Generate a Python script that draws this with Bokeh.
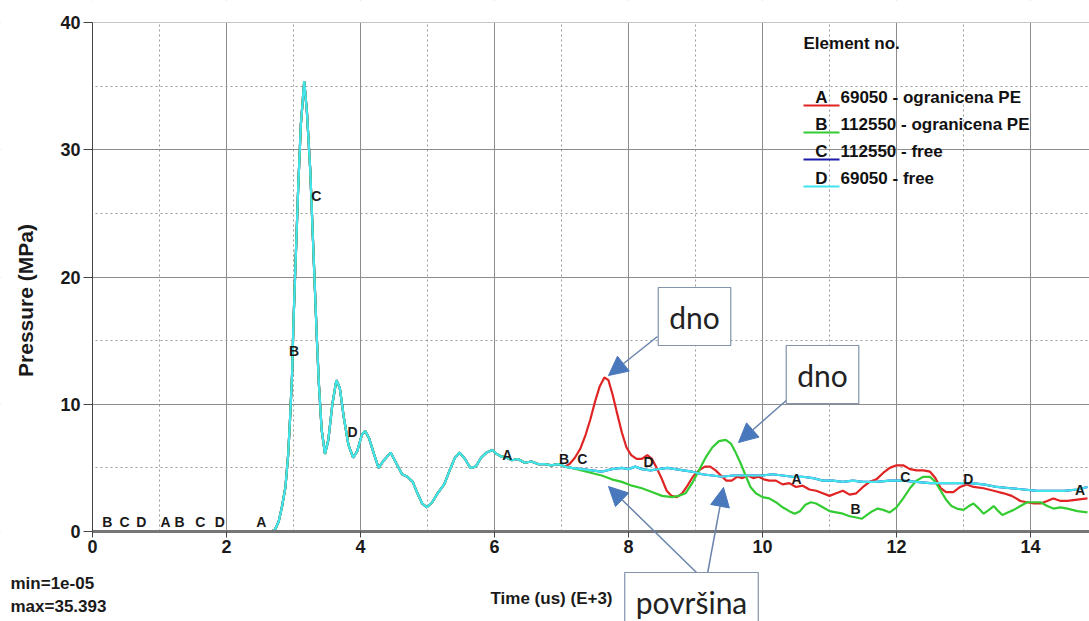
import numpy as np
from bokeh.plotting import figure
from bokeh.models import (Range1d, SingleIntervalTicker, Label, Arrow, NormalHead,
                          ColumnDataSource, BoxAnnotation)
from bokeh.core.properties import value
from bokeh.embed import file_html
from bokeh.resources import INLINE

# ---------------- data ----------------
common_x = [0, 2.65, 2.72, 2.78, 2.83, 2.88, 2.92, 2.95, 2.98, 3.0, 3.03, 3.07, 3.11, 3.16, 3.20, 3.25,
            3.29, 3.32, 3.35, 3.38, 3.42, 3.47, 3.52, 3.58, 3.64, 3.69, 3.75, 3.82, 3.89, 3.95, 4.02,
            4.07, 4.13, 4.2, 4.27, 4.35, 4.45, 4.53, 4.62, 4.70, 4.78, 4.85, 4.92, 4.99, 5.07, 5.15,
            5.25, 5.33, 5.41, 5.48, 5.56, 5.64, 5.72, 5.8, 5.88, 5.97, 6.03, 6.1, 6.18, 6.26, 6.35,
            6.45, 6.55, 6.65, 6.75, 6.85, 6.95, 7.05]
common_y = [0, 0, 0.1, 0.8, 2.0, 3.5, 6.0, 9.0, 12.5, 16.5, 21.0, 27.0, 32.0, 35.39, 33.0, 28.4,
            23.0, 19.0, 15.0, 11.5, 8.0, 6.1, 7.2, 10.0, 11.9, 11.3, 9.0, 6.8, 5.8, 6.3, 7.6,
            7.9, 7.3, 6.1, 5.0, 5.6, 6.2, 5.4, 4.5, 4.3, 3.9, 3.0, 2.2, 1.9, 2.3, 3.0,
            3.7, 4.8, 5.8, 6.2, 5.7, 5.0, 5.1, 5.8, 6.2, 6.4, 6.1, 5.9, 5.8, 5.6, 5.7,
            5.4, 5.5, 5.3, 5.3, 5.2, 5.3, 5.1]

a_tail_x = [7.12, 7.2, 7.28, 7.36, 7.43, 7.5, 7.57, 7.64, 7.7, 7.76, 7.82, 7.9, 7.97, 8.04, 8.12, 8.2,
            8.28, 8.35, 8.42, 8.5, 8.57, 8.64, 8.72, 8.8, 8.88, 8.96, 9.05, 9.14, 9.22, 9.3, 9.38,
            9.46, 9.54, 9.62, 9.7, 9.78, 9.86, 9.94, 10.02, 10.1, 10.2, 10.3, 10.4, 10.5, 10.6, 10.7,
            10.8, 10.9, 11.0, 11.1, 11.2, 11.3, 11.4, 11.5, 11.6, 11.7, 11.8, 11.9, 12.0, 12.1, 12.2,
            12.3, 12.4, 12.5, 12.58, 12.66, 12.74, 12.85, 12.95, 13.05, 13.15, 13.3, 13.45, 13.6,
            13.72, 13.85, 13.95, 14.05, 14.15, 14.25, 14.34, 14.45, 14.55, 14.7, 14.85]
a_tail_y = [5.3, 5.8, 6.5, 7.6, 8.8, 10.2, 11.4, 12.1, 11.9, 10.8, 9.5, 7.8, 6.6, 6.0, 5.7, 5.7,
            6.0, 5.7, 5.0, 4.1, 3.2, 2.8, 2.7, 3.0, 3.6, 4.3, 4.8, 5.1, 5.1, 4.8, 4.4,
            4.0, 4.0, 4.3, 4.2, 4.4, 4.2, 4.3, 4.1, 4.0, 4.0, 3.7, 3.8, 3.5, 3.6, 3.3,
            3.2, 3.0, 2.8, 3.0, 3.2, 2.9, 3.0, 3.5, 3.9, 4.1, 4.6, 5.0, 5.2, 5.2, 4.9,
            4.8, 4.8, 4.7, 4.2, 3.4, 3.1, 3.1, 3.5, 3.7, 3.5, 3.4, 3.2, 3.0,
            2.8, 2.4, 2.3, 2.2, 2.2, 2.4, 2.6, 2.4, 2.4, 2.5, 2.6]

b_tail_x = [7.15, 7.3, 7.45, 7.6, 7.75, 7.9, 8.05, 8.2, 8.35, 8.5, 8.65, 8.75, 8.85, 8.95, 9.05, 9.15,
            9.25, 9.35, 9.45, 9.53, 9.6, 9.67, 9.74, 9.82, 9.9, 10.0, 10.1, 10.2, 10.3, 10.4, 10.48,
            10.56, 10.64, 10.72, 10.8, 10.9, 11.0, 11.1, 11.2, 11.3, 11.4, 11.48, 11.56, 11.64, 11.72,
            11.8, 11.9, 12.0, 12.1, 12.2, 12.3, 12.4, 12.5, 12.58, 12.66, 12.74, 12.82, 12.9, 13.0,
            13.08, 13.15, 13.23, 13.3, 13.38, 13.45, 13.52, 13.58, 13.66, 13.75, 13.85, 13.95, 14.05,
            14.15, 14.25, 14.34, 14.45, 14.55, 14.7, 14.85]
b_tail_y = [5.0, 4.8, 4.6, 4.4, 4.1, 3.9, 3.6, 3.4, 3.1, 2.8, 2.7, 2.8, 3.0, 3.8, 4.8, 5.8,
            6.6, 7.1, 7.2, 6.9, 6.2, 5.4, 4.5, 3.5, 3.0, 2.7, 2.6, 2.3, 1.9, 1.6, 1.4,
            1.6, 2.1, 2.3, 2.2, 1.9, 1.6, 1.5, 1.4, 1.2, 1.1, 1.0, 1.3, 1.6, 1.8,
            1.7, 1.5, 1.9, 2.6, 3.4, 4.0, 4.3, 4.3, 3.9, 3.2, 2.5, 2.0, 1.8, 1.7,
            2.0, 2.2, 1.8, 1.4, 1.7, 2.0, 1.6, 1.3, 1.5, 1.7, 2.0, 2.3, 2.3,
            2.3, 2.0, 1.8, 1.9, 1.8, 1.6, 1.5]

d_tail_x = [7.15, 7.3, 7.45, 7.6, 7.75, 7.9, 8.0, 8.1, 8.2, 8.33, 8.45, 8.58, 8.7, 8.82, 8.95, 9.1,
            9.25, 9.4, 9.55, 9.7, 9.85, 10.0, 10.15, 10.3, 10.45, 10.6, 10.75, 10.9, 11.05, 11.2,
            11.35, 11.5, 11.7, 11.9, 12.1, 12.3, 12.5, 12.7, 12.9, 13.1, 13.3, 13.5, 13.7, 13.9,
            14.1, 14.3, 14.5, 14.7, 14.85]
d_tail_y = [5.0, 4.9, 4.8, 4.7, 4.9, 5.0, 4.9, 5.1, 4.9, 4.8, 4.9, 5.0, 4.9, 4.8, 4.7, 4.5,
            4.4, 4.3, 4.4, 4.4, 4.4, 4.4, 4.5, 4.4, 4.3, 4.3, 4.2, 4.0, 4.0, 3.9,
            4.0, 3.9, 3.9, 4.0, 4.0, 3.9, 3.8, 3.8, 3.8, 3.8, 3.7, 3.5, 3.4, 3.3,
            3.2, 3.2, 3.2, 3.3, 3.5]

marker_text = ["B", "C", "D", "A", "B", "C", "D", "A", "B", "C", "D", "A", "B", "C", "D",
               "A", "B", "C", "D", "A"]
marker_x = [0.22, 0.48, 0.73, 1.09, 1.30, 1.61, 1.90, 2.52, 3.01, 3.34, 3.88, 6.19, 7.04, 7.31,
            8.30, 10.51, 11.39, 12.13, 13.07, 14.74]
marker_y = [0.71, 0.71, 0.71, 0.71, 0.71, 0.71, 0.71, 0.71, 14.2, 26.4, 7.8, 6.05, 5.66, 5.66,
            5.5, 4.09, 1.73, 4.32, 4.09, 3.3]

series_letters = ["A", "B", "C", "D"]
series_names = ["69050 - ogranicena PE", "112550 - ogranicena PE", "112550 - free", "69050 - free"]
series_colors = ["#e02424", "#33cc33", "#1c1ca8", "#42e4ee"]

# ---------------- geometry (frame covers the whole canvas) ----------------
FONT = "Liberation Sans"
W, H = 1089, 621
X0, Y0 = 92, 531          # pixel of data origin
XS = 67.0                 # px per x unit
YS = (531 - 22) / 40.0    # px per y unit

x_lo, x_hi = -X0 / XS, (W - X0) / XS
y_lo, y_hi = -(H - Y0) / YS, Y0 / YS

p = figure(width=W, height=H, output_backend="svg", toolbar_location=None,
           x_range=Range1d(x_lo, x_hi), y_range=Range1d(y_lo, y_hi),
           min_border=0, min_border_left=0, min_border_right=0,
           min_border_top=0, min_border_bottom=0)
p.outline_line_color = None
p.background_fill_color = "white"


def dx(px):
    return (px - X0) / XS


def dy(py):
    return (Y0 - py) / YS


p.xaxis.ticker = SingleIntervalTicker(interval=2, num_minor_ticks=2)
p.yaxis.ticker = SingleIntervalTicker(interval=10, num_minor_ticks=2)
p.xaxis.fixed_location = 0
p.yaxis.fixed_location = 0
p.xaxis.bounds = (0, x_hi)
p.yaxis.bounds = (0, 40)

for g in (p.xgrid, p.ygrid):
    g.grid_line_color = "#8c8c8c"
    g.grid_line_width = 1
    g.minor_grid_line_color = "#9a9a9a"
    g.minor_grid_line_dash = "2 3"
    g.minor_grid_line_width = 1

# white covers so grid lines stay inside the data area
for kw in (dict(left=x_lo - 1, right=0, bottom=y_lo - 1, top=y_hi + 1),
           dict(left=x_lo - 1, right=x_hi + 1, bottom=y_lo - 1, top=0),
           dict(left=x_lo - 1, right=x_hi + 1, bottom=40, top=y_hi + 1)):
    p.add_layout(BoxAnnotation(fill_color="white", fill_alpha=1.0, line_color=None,
                               level="underlay", **kw))

for ax in (p.xaxis, p.yaxis):
    ax.minor_tick_line_color = None
    ax.major_label_text_font = FONT
    ax.major_label_text_font_style = "bold"
    ax.major_label_text_font_size = "18px"
    ax.major_label_text_color = "#1a1a1a"
    ax.major_tick_in = 0
    ax.major_tick_line_color = "#444444"

p.yaxis.axis_line_color = "#444444"
p.yaxis.major_tick_out = 9
p.yaxis.major_label_standoff = 3
p.xaxis.axis_line_color = "#767676"
p.xaxis.axis_line_width = 3
p.xaxis.major_tick_out = 6
p.xaxis.major_label_standoff = 2

# ---------------- curves ----------------
tails = {"A": (a_tail_x, a_tail_y), "B": (b_tail_x, b_tail_y),
         "C": (d_tail_x, d_tail_y), "D": (d_tail_x, d_tail_y)}
order = ["C", "A", "B", "D"]
for letter in order:
    i = series_letters.index(letter)
    tx, ty = tails[letter]
    p.line(common_x + tx, common_y + ty, line_color=series_colors[i], line_width=2.2)

msrc = ColumnDataSource(dict(x=marker_x, y=marker_y, t=marker_text))
p.text(x="x", y="y", text="t", source=msrc, text_font=value(FONT), text_font_size="14px",
       text_font_style="bold", text_align="center", text_baseline="middle", text_color="#1a1a1a")

# ---------------- legend (custom) ----------------
p.add_layout(Label(x=dx(803), y=dy(43), text="Element no.", text_font=FONT, text_font_style="bold",
                   text_font_size="17px", text_baseline="middle", text_color="#111111"))
row_y = [97, 124, 151, 178]
for i, letter in enumerate(series_letters):
    ly = row_y[i]
    p.add_layout(Arrow(end=None, x_start=dx(803), y_start=dy(ly + 8), x_end=dx(839), y_end=dy(ly + 8),
                       line_color=series_colors[i], line_width=2.2))
    p.add_layout(Label(x=dx(821), y=dy(ly), text=letter, text_font=FONT, text_font_size="17px",
                       text_font_style="bold", text_align="center", text_baseline="middle",
                       text_color="#111111"))
    p.add_layout(Label(x=dx(840), y=dy(ly), text=series_names[i], text_font=FONT,
                       text_font_size="17px", text_font_style="bold", text_baseline="middle",
                       text_color="#111111"))

# ---------------- axis titles & notes ----------------
p.add_layout(Label(x=dx(25), y=dy(300), text="Pressure (MPa)", angle=np.pi / 2, text_font=FONT,
                   text_font_size="21px", text_font_style="bold", text_align="center",
                   text_baseline="middle", text_color="#1a1a1a"))
p.add_layout(Label(x=dx(551), y=dy(598), text="Time (us) (E+3)", text_font=FONT,
                   text_font_size="17px", text_font_style="bold", text_align="center",
                   text_baseline="middle", text_color="#1a1a1a"))
p.add_layout(Label(x=dx(10), y=dy(583), text="min=1e-05", text_font=FONT,
                   text_font_size="17px", text_font_style="bold", text_baseline="middle",
                   text_color="#1a1a1a"))
p.add_layout(Label(x=dx(10), y=dy(606), text="max=35.393", text_font=FONT,
                   text_font_size="17px", text_font_style="bold", text_baseline="middle",
                   text_color="#1a1a1a"))

# ---------------- callouts ----------------
ARROW_C = "#6a84ad"
HEAD_C = "#4a78bc"
arrows = [((657, 336), (608, 375)), ((788, 398), (738, 442)),
          ((697, 573), (608, 486)), ((707, 573), (723, 487))]
for (sx, sy), (ex, ey) in arrows:
    p.add_layout(Arrow(x_start=dx(sx), y_start=dy(sy), x_end=dx(ex), y_end=dy(ey),
                       line_color=ARROW_C, line_width=1.5,
                       end=NormalHead(size=19, fill_color=HEAD_C, line_color=HEAD_C)))

callouts = [("dno", 694, 316), ("dno", 822, 374), ("površina", 691, 601)]
for txt, cx, cy in callouts:
    p.add_layout(Label(x=dx(cx), y=dy(cy), text=txt, text_font="Lato", text_font_size="30px",
                       text_align="center", text_baseline="middle", text_color="#222222",
                       border_line_color="#8494ac", border_line_width=1.2,
                       background_fill_color="white", padding=11))

open("out.html", "w").write(file_html(p, INLINE))
